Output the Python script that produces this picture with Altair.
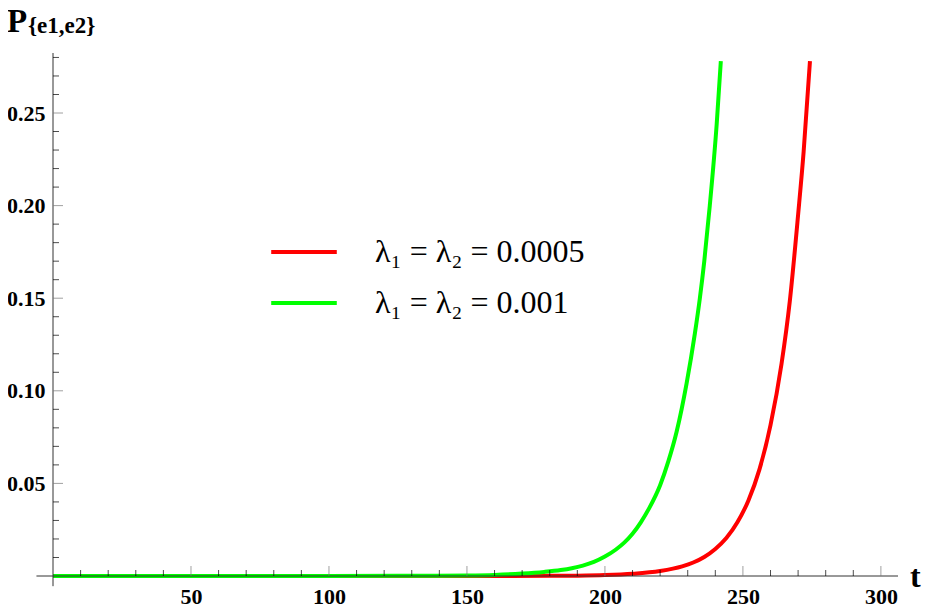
import altair as alt
import pandas as pd

# ---- data ----
t_red = [0, 100, 150, 180, 190, 200, 210, 220, 228, 232, 236, 240, 244, 248, 252, 256,
         260, 264, 267, 270, 272, 274.3]
p_red = [0, 0, 0.00002, 0.0001, 0.0002, 0.0005, 0.0012, 0.0027, 0.0052, 0.0073, 0.0103,
         0.0146, 0.0205, 0.029, 0.0408, 0.0576, 0.0815, 0.1146, 0.1485, 0.195, 0.229, 0.278]

t_green = [0, 50, 100, 130, 150, 160, 170, 178, 184, 188, 192, 196, 200, 204, 207, 210,
           213, 216, 220, 223, 226, 229.6, 232.6, 234.4, 236, 238, 240.5, 242]
p_green = [0, 0, 0.00002, 0.0001, 0.0003, 0.0006, 0.0013, 0.0022, 0.0032, 0.0042, 0.0056,
           0.0076, 0.0105, 0.0143, 0.018, 0.0228, 0.029, 0.0365, 0.049, 0.062, 0.078,
           0.104, 0.131, 0.150, 0.170, 0.200, 0.244, 0.278]

series_labels = ["λ₁ = λ₂ = 0.0005", "λ₁ = λ₂ = 0.001"]
series_colors = ["#ff0000", "#00ff00"]

x_major = [50, 100, 150, 200, 250, 300]
x_minor = [10, 20, 30, 40, 60, 70, 80, 90, 110, 120, 130, 140, 160, 170, 180, 190,
           210, 220, 230, 240, 260, 270, 280, 290]
y_major = [0.05, 0.10, 0.15, 0.20, 0.25]
y_minor = [0.01, 0.02, 0.03, 0.04, 0.06, 0.07, 0.08, 0.09, 0.11, 0.12, 0.13, 0.14,
           0.16, 0.17, 0.18, 0.19, 0.21, 0.22, 0.23, 0.24, 0.26, 0.27, 0.28]

x_domain = [0, 306.2]
y_domain = [0, 0.2824]

FONT = "Liberation Serif"

curves = pd.concat([
    pd.DataFrame({"t": t_red, "p": p_red, "series": series_labels[0], "k": 0}),
    pd.DataFrame({"t": t_green, "p": p_green, "series": series_labels[1], "k": 1}),
])

xs = alt.Scale(domain=x_domain, nice=False, zero=False)
ys = alt.Scale(domain=y_domain, nice=False, zero=False)

x_axis = alt.Axis(values=x_major, format="d", domain=False, ticks=False, grid=False,
                  labelFont=FONT, labelFontWeight="bold", labelFontSize=22,
                  labelColor="black", labelPadding=10, labelFlush=False,
                  labelOverlap=False, title=None)
y_axis = alt.Axis(values=y_major, format=".2f", domain=False, ticks=False, grid=False,
                  labelFont=FONT, labelFontWeight="bold", labelFontSize=22,
                  labelColor="black", labelPadding=8, labelFlush=False,
                  labelOverlap=False, title=None)

lines = alt.Chart(curves).mark_line(strokeWidth=4, interpolate="monotone").encode(
    x=alt.X("t:Q", scale=xs, axis=x_axis),
    y=alt.Y("p:Q", scale=ys, axis=y_axis),
    color=alt.Color("series:N",
                    scale=alt.Scale(domain=series_labels, range=series_colors),
                    legend=alt.Legend(orient="none", legendX=216, legendY=164,
                                      title=None, symbolType="stroke",
                                      symbolSize=4300, symbolStrokeWidth=4,
                                      labelFont=FONT, labelFontSize=32,
                                      labelColor="black", labelOffset=36,
                                      rowPadding=-10, labelLimit=400)),
    order="k:Q",
    detail="series:N",
)

# axis lines (Mathematica style, crossing at the origin)
x_axis_line = alt.Chart(pd.DataFrame({"a": [0]})).mark_rule(color="#333", strokeWidth=1).encode(
    x=alt.datum(-6), x2=alt.datum(x_domain[1]), y=alt.datum(0))
y_axis_line = alt.Chart(pd.DataFrame({"a": [0]})).mark_rule(color="#333", strokeWidth=1).encode(
    x=alt.datum(0), y=alt.datum(-0.0055), y2=alt.datum(y_domain[1]))

x_major_ticks = alt.Chart(pd.DataFrame({"t": x_major})).mark_tick(
    orient="vertical", size=10, thickness=1, yOffset=-5, color="#777").encode(
    x=alt.X("t:Q", scale=xs), y=alt.datum(0))
x_minor_ticks = alt.Chart(pd.DataFrame({"t": x_minor})).mark_tick(
    orient="vertical", size=6, thickness=1, yOffset=-3, color="black").encode(
    x=alt.X("t:Q", scale=xs), y=alt.datum(0))
y_major_ticks = alt.Chart(pd.DataFrame({"p": y_major})).mark_tick(
    orient="horizontal", size=10, thickness=1, xOffset=5, color="#777").encode(
    y=alt.Y("p:Q", scale=ys), x=alt.datum(0))
y_minor_ticks = alt.Chart(pd.DataFrame({"p": y_minor})).mark_tick(
    orient="horizontal", size=6, thickness=1, xOffset=3, color="black").encode(
    y=alt.Y("p:Q", scale=ys), x=alt.datum(0))

title_p = alt.Chart(pd.DataFrame({"s": ["P"]})).mark_text(
    font=FONT, fontWeight="bold", fontSize=33, align="left", baseline="alphabetic",
    color="black").encode(text="s:N", x=alt.value(-46), y=alt.value(-21))
title_sub = alt.Chart(pd.DataFrame({"s": ["{e1,e2}"]})).mark_text(
    font=FONT, fontWeight="bold", fontSize=23, align="left", baseline="alphabetic",
    color="black").encode(text="s:N", x=alt.value(-25), y=alt.value(-20))
t_label = alt.Chart(pd.DataFrame({"s": ["t"]})).mark_text(
    font=FONT, fontWeight="bold", fontSize=32, align="left", baseline="alphabetic",
    color="black").encode(text="s:N", x=alt.value(857), y=alt.value(534))

chart = alt.layer(
    lines, x_axis_line, y_axis_line, x_major_ticks, x_minor_ticks,
    y_major_ticks, y_minor_ticks, title_p, title_sub, t_label
).properties(
    width=845, height=523,
    autosize=alt.AutoSizeParams(type="none"),
    padding={"left": 45, "top": 45, "right": 30, "bottom": 33},
).configure(background="white").configure_view(strokeWidth=0)

chart.save("out.html", embed_options={"renderer": "svg", "actions": False})
